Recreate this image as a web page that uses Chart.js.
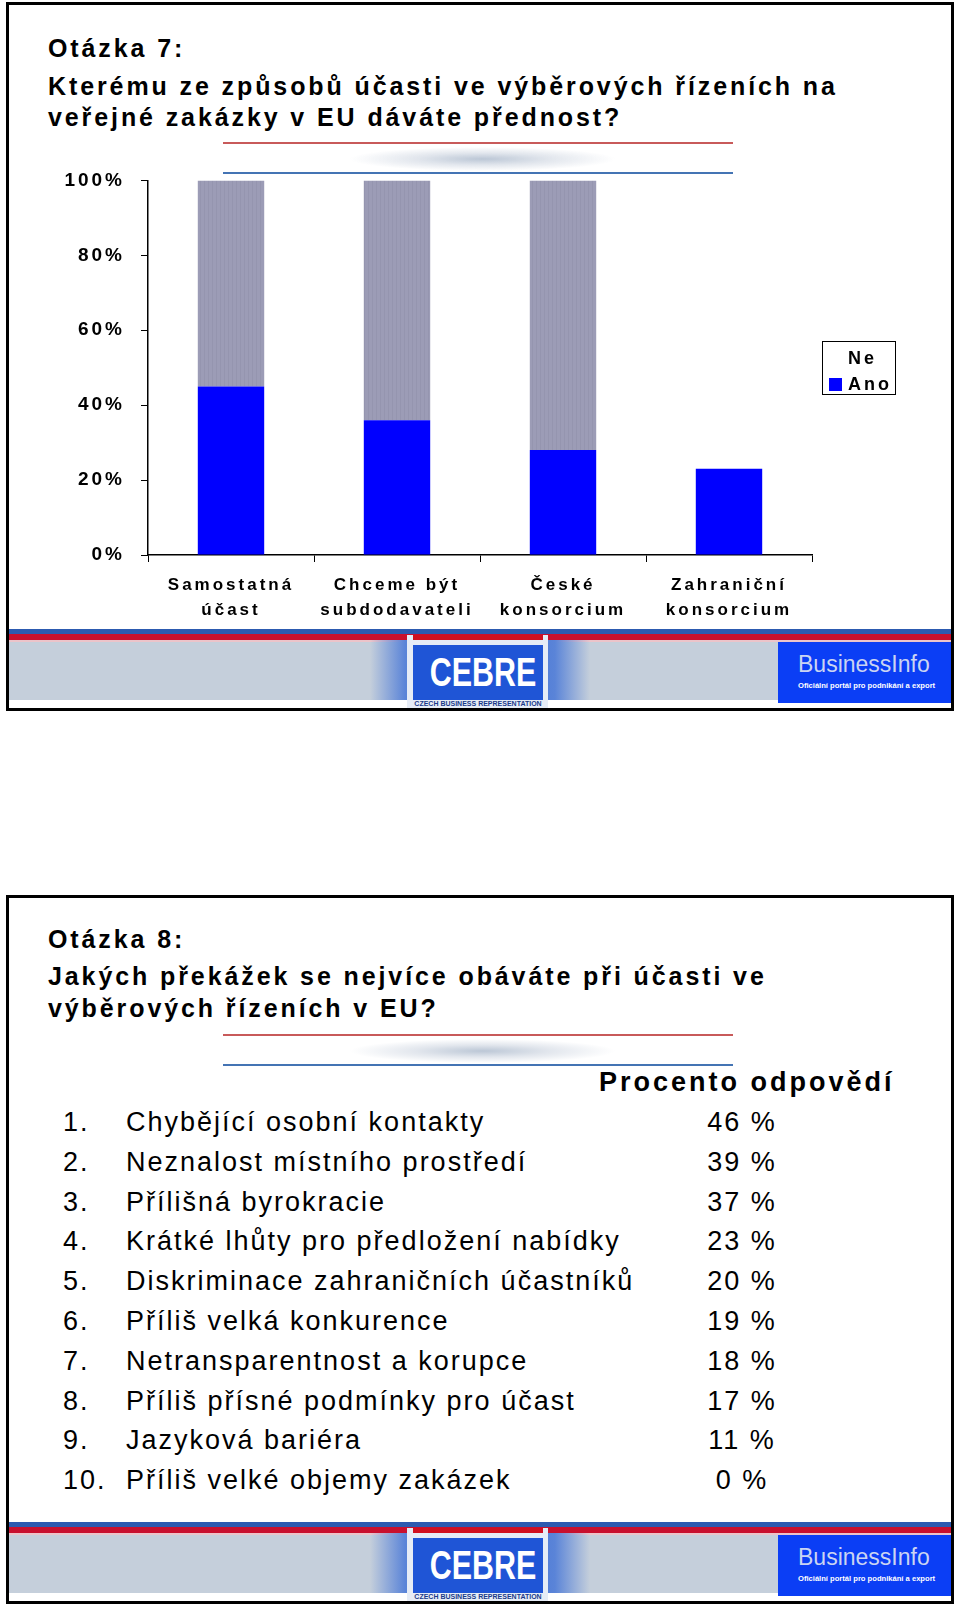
<!DOCTYPE html>
<html>
<head>
<meta charset="utf-8">
<script src="https://cdn.jsdelivr.net/npm/chart.js@4.4.0/dist/chart.umd.min.js"></script>
<style>
  body { margin: 0; width: 960px; height: 1605px; background: #fff; position: relative; overflow: hidden;
         font-family: "Liberation Sans", Arial, sans-serif; color: #000; }
  .abs { position: absolute; }
  .frame { position: absolute; left: 6px; width: 942px; height: 703px; border: 3px solid #000; }
  .title { position: absolute; left: 48px; font-weight: bold; font-size: 25px; letter-spacing: 2.9px;
           line-height: 30px; white-space: nowrap; }
  .row { position: absolute; font-size: 27px; letter-spacing: 2px; line-height: 32px; white-space: nowrap; }
  #chart { position: absolute; left: 0; top: 153px; }
  #legend { position: absolute; left: 822px; top: 341px; width: 72px; height: 52px; border: 1px solid #000;
            background: #fff; font-weight: bold; font-size: 18px; letter-spacing: 3px; }
</style>
</head>
<body>
<div class="frame" style="top:2px"></div>
<div class="frame" style="top:895px"></div>

<div class="title" style="top:33px">Otázka 7:</div>
<div class="title" style="top:71px">Kterému ze způsobů účasti ve výběrových řízeních na</div>
<div class="title" style="top:102px">veřejné zakázky v EU dáváte přednost?</div>

<div class="title" style="top:924px">Otázka 8:</div>
<div class="title" style="top:961px">Jakých překážek se nejvíce obáváte při účasti ve</div>
<div class="title" style="top:993px">výběrových řízeních v EU?</div>

<canvas id="chart" width="830" height="467"></canvas>
<div id="legend"></div>

<script>
// otázka 7
const categories = [["Samostatná", "účast"], ["Chceme být", "subdodavateli"], ["České", "konsorcium"], ["Zahraniční", "konsorcium"]];
const seriesNames = ["Ano", "Ne"];
const anoValues = [45, 36, 28, 23];
const neValues = [55, 64, 72, 0];
const yTicks = [0, 20, 40, 60, 80, 100];

// otázka 8
const obstacles = [
  "Chybějící osobní kontakty",
  "Neznalost místního prostředí",
  "Přílišná byrokracie",
  "Krátké lhůty pro předložení nabídky",
  "Diskriminace zahraničních účastníků",
  "Příliš velká konkurence",
  "Netransparentnost a korupce",
  "Příliš přísné podmínky pro účast",
  "Jazyková bariéra",
  "Příliš velké objemy zakázek"
];
const obstaclePercents = [46, 39, 37, 23, 20, 19, 18, 17, 11, 0];

function box(x, y, w, h, style) {
  const d = document.createElement("div");
  d.className = "abs";
  d.style.cssText = `left:${x}px;top:${y}px;width:${w}px;height:${h}px;` + (style || "");
  document.body.appendChild(d);
  return d;
}

function decoLines(y) {
  box(223, y, 510, 2, "background:#c85a5a");
  box(350, y + 5, 265, 24, "background:radial-gradient(ellipse 50% 50% at center, rgba(165,180,200,0.75) 0%, rgba(190,200,215,0.45) 50%, rgba(255,255,255,0) 100%)");
  box(223, y + 30, 510, 2, "background:#4474b4");
}

function footer(y0) {
  box(9, y0, 942, 5, "background:#2c5ab0");
  box(9, y0 + 5, 942, 6, "background:#c8102e");
  box(9, y0 + 11, 942, 2, "background:#ecc4ca");
  box(9, y0 + 13, 942, 58, "background:#c5cfdb");
  box(370, y0 + 11, 220, 60, "background:linear-gradient(to right, rgba(197,207,219,0) 0%, #5a84d8 16%, #2f60d4 50%, #5a84d8 84%, rgba(197,207,219,0) 100%)");
  box(407, y0 + 6, 141, 73, "background:#e6ecf6");
  box(413, y0 + 6, 130, 5, "background:#d01020");
  const b = box(413, y0 + 16, 130, 55, "background:#1f55d6;color:#fff;font-weight:bold;font-size:40px;line-height:55px;text-align:center;overflow:hidden");
  b.innerHTML = '<span style="display:inline-block;transform:scaleX(0.76)">CEBRE</span>';
  const t = box(413, y0 + 71, 130, 8, "color:#1a3a8a;font-weight:bold;font-size:7px;line-height:8px;text-align:center;white-space:nowrap;overflow:hidden");
  t.textContent = "CZECH BUSINESS REPRESENTATION";
  const bi = box(778, y0 + 13, 173, 61, "background:#0b3ef5");
  bi.innerHTML =
    '<div class="abs" style="left:20px;top:8px;font-size:23px;color:#cad4f2;line-height:28px;white-space:nowrap">BusinessInfo</div>' +
    '<div class="abs" style="left:20px;top:39px;font-size:7.6px;font-weight:bold;color:#fff;line-height:9px;white-space:nowrap">Oficiální portál pro podnikání a export</div>';
}

decoLines(142);
decoLines(1034);
footer(629);
footer(1522);

// legend
const legend = document.getElementById("legend");
const legendColors = { Ano: "#0000ff", Ne: "transparent" };
[...seriesNames].reverse().forEach((name, i) => {
  legend.innerHTML += `<div class="abs" style="left:6px;top:${4 + i * 26}px;height:24px;line-height:24px;white-space:nowrap">
    <span style="display:inline-block;width:13px;height:13px;background:${legendColors[name]};vertical-align:-1px;margin-right:6px"></span>${name}</div>`;
});

// table for otázka 8
const rowTop = 1122, rowStep = 39.8;
const head = box(599, 1082 - 16, 320, 32, "font-weight:bold;font-size:27px;letter-spacing:3px;line-height:32px;white-space:nowrap");
head.textContent = "Procento odpovědí";
obstacles.forEach((name, i) => {
  const y = rowTop + i * rowStep - 16;
  const n = box(63, y, 60, 32); n.className = "row";
  n.textContent = (i + 1) + ".";
  const t = box(126, y, 600, 32); t.className = "row";
  t.textContent = name;
  const p = box(690, y, 104, 32); p.className = "row";
  p.style.textAlign = "center";
  p.textContent = obstaclePercents[i] + " %";
});

// striped grey fill like the original bars
const pc = document.createElement("canvas");
pc.width = 4; pc.height = 1;
const pctx = pc.getContext("2d");
pctx.fillStyle = "#9c9cb6"; pctx.fillRect(0, 0, 4, 1);
pctx.fillStyle = "#9595af"; pctx.fillRect(0, 0, 1, 1);
const ctx = document.getElementById("chart").getContext("2d");
const stripes = ctx.createPattern(pc, "repeat");

const spacing = {
  id: "spacing",
  beforeLayout(c) { c.ctx.letterSpacing = "3px"; },
  beforeDraw(c) { c.ctx.letterSpacing = "3px"; }
};

new Chart(ctx, {
  type: "bar",
  data: {
    labels: categories,
    datasets: [
      { label: seriesNames[0], data: anoValues, backgroundColor: "#0000ff" },
      { label: seriesNames[1], data: neValues, backgroundColor: stripes }
    ]
  },
  options: {
    responsive: false,
    animation: false,
    layout: { padding: { top: 15, right: 18, left: 0, bottom: 0 } },
    plugins: { legend: { display: false }, tooltip: { enabled: false } },
    datasets: { bar: { categoryPercentage: 1, barPercentage: 0.4, borderWidth: 0 } },
    scales: {
      x: {
        stacked: true,
        grid: { offset: true, drawOnChartArea: false, tickLength: 7, color: "#000" },
        border: { color: "#000", width: 1.5 },
        ticks: { color: "#000", padding: 11, maxRotation: 0, autoSkip: false,
                 font: { family: "Liberation Sans", size: 17, weight: "bold", lineHeight: "25px" } },
        afterFit(s) { s.height = 65; }
      },
      y: {
        stacked: true,
        min: 0,
        max: 100,
        afterBuildTicks(s) { s.ticks = yTicks.map(v => ({ value: v })); },
        ticks: { color: "#000", padding: 16, callback: v => v + "%",
                 font: { family: "Liberation Sans", size: 19, weight: "bold" } },
        grid: { drawOnChartArea: false, tickLength: 7, color: "#000" },
        border: { color: "#000", width: 1.5 },
        afterFit(s) { s.width = 148; }
      }
    }
  },
  plugins: [spacing]
});
</script>
</body>
</html>
